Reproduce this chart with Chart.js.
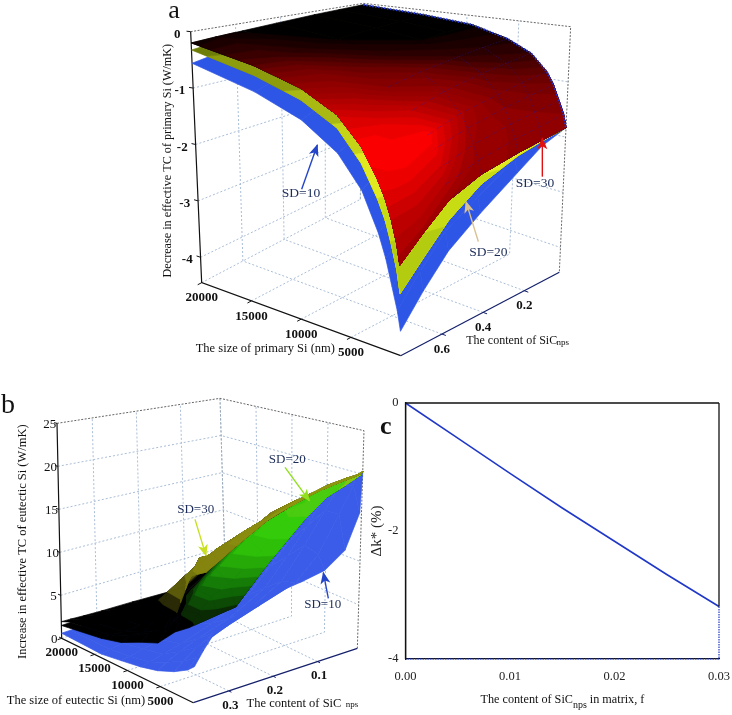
<!DOCTYPE html>
<html>
<head>
<meta charset="utf-8">
<title>SiC nps effective TC</title>
<script src="https://cdn.jsdelivr.net/npm/chart.js@4"></script>
<style>
  html, body { margin: 0; background: #fff; overflow: hidden; }
  canvas { position: absolute; }
</style>
</head>
<body>
<canvas id="chart-a" width="450" height="370" style="left:150px;top:0"></canvas>
<canvas id="chart-b" width="370" height="325" style="left:0;top:390px"></canvas>
<canvas id="chart-c" width="375" height="325" style="left:365px;top:390px"></canvas>
<script>
// panel a, rows follow contentsA, columns follow sizesA
var sizesA = [20000, 14000, 9500, 6000, 3700, 2100, 1400, 800, 300, 0];
var contentsA = [0.8, 0.69, 0.57, 0.42, 0.25, 0.14, 0.03];
var sizeTicksA = [20000, 15000, 10000, 5000];
var contentTicksA = [0.6, 0.4, 0.2];
var valueTicksA = [0, -1, -2, -3, -4];
var sd30A = [
  [-0.20, -0.45, -0.71, -1.04, -1.46, -1.92, -2.17, -2.47, -2.80, -3.11],
  [-0.17, -0.39, -0.61, -0.91, -1.28, -1.69, -1.92, -2.21, -2.50, -2.77],
  [-0.145, -0.33, -0.54, -0.79, -1.11, -1.45, -1.65, -1.92, -2.17, -2.41],
  [-0.11, -0.26, -0.43, -0.65, -0.92, -1.24, -1.46, -1.71, -1.95, -2.17],
  [-0.07, -0.19, -0.31, -0.52, -0.76, -1.08, -1.29, -1.55, -1.79, -2.01],
  [-0.05, -0.14, -0.24, -0.44, -0.67, -0.97, -1.19, -1.46, -1.70, -1.92],
  [-0.03, -0.10, -0.18, -0.37, -0.58, -0.88, -1.10, -1.37, -1.60, -1.83]
];
var sd20A = [
  [-0.325, -0.615, -0.90, -1.25, -1.72, -2.22, -2.50, -2.85, -3.20, -3.53],
  [-0.27, -0.52, -0.76, -1.08, -1.49, -1.93, -2.19, -2.51, -2.84, -3.15],
  [-0.22, -0.43, -0.65, -0.92, -1.27, -1.63, -1.87, -2.15, -2.44, -2.72],
  [-0.16, -0.33, -0.51, -0.74, -1.02, -1.36, -1.58, -1.86, -2.10, -2.33],
  [-0.10, -0.22, -0.35, -0.56, -0.81, -1.14, -1.36, -1.63, -1.85, -2.06],
  [-0.07, -0.16, -0.26, -0.46, -0.70, -1.00, -1.22, -1.50, -1.73, -1.94],
  [-0.04, -0.11, -0.19, -0.38, -0.59, -0.89, -1.11, -1.38, -1.61, -1.83]
];
var sd10A = [
  [-0.56, -0.89, -1.22, -1.64, -2.13, -2.72, -3.07, -3.47, -3.80, -4.09],
  [-0.48, -0.76, -1.04, -1.42, -1.85, -2.37, -2.67, -3.05, -3.36, -3.65],
  [-0.38, -0.62, -0.87, -1.18, -1.55, -1.97, -2.24, -2.57, -2.90, -3.20],
  [-0.28, -0.48, -0.68, -0.95, -1.27, -1.66, -1.93, -2.26, -2.55, -2.80],
  [-0.16, -0.32, -0.46, -0.70, -1.00, -1.35, -1.60, -1.90, -2.13, -2.35],
  [-0.09, -0.21, -0.32, -0.52, -0.77, -1.11, -1.33, -1.61, -1.83, -2.03],
  [-0.05, -0.12, -0.21, -0.40, -0.60, -0.90, -1.12, -1.40, -1.62, -1.83]
];
// colour shade of the SD=30 surface at the same nodes, 0 black to 1 full red
var shade30A = [
  [0.03, 0.25, 0.55, 0.85, 1, 0.95, 0.9, 0.8, 0.72, 0.65],
  [0.05, 0.2, 0.45, 0.7, 0.95, 1, 0.95, 0.85, 0.75, 0.65],
  [0.02, 0.1, 0.3, 0.5, 0.8, 1, 0.95, 0.85, 0.73, 0.62],
  [0, 0.02, 0.12, 0.35, 0.55, 0.7, 0.66, 0.62, 0.6, 0.58],
  [0, 0, 0.03, 0.15, 0.3, 0.45, 0.5, 0.55, 0.55, 0.55],
  [0, 0, 0.02, 0.1, 0.2, 0.35, 0.43, 0.5, 0.52, 0.55],
  [0, 0, 0.02, 0.08, 0.15, 0.28, 0.37, 0.45, 0.5, 0.55]
];

// panel b
var sizesB = [20000, 14000, 11000, 8000, 5500, 3000, 1000, 0];
var contentsB = [0.38, 0.36, 0.33, 0.29, 0.22, 0.14, 0.09, 0.045, 0.014, 0.01];
var sizeTicksB = [20000, 15000, 10000, 5000];
var contentTicksB = [0.3, 0.2, 0.1];
var valueTicksB = [0, 5, 10, 15, 20, 25];
var sd30B = [
  [1.94, 3.8, 5.0, 6.1, 7.0, 7.9, 12.5, 13.0],
  [1.9, 3.9, 5.5, 7.2, 9.5, 10.7, 14.2, 13.0],
  [1.8, 4.2, 6.0, 7.9, 10.5, 12.8, 14.3, 13.85],
  [1.7, 4.3, 6.2, 8.1, 11.0, 13.9, 15.1, 15.07],
  [1.6, 3.7, 7.2, 10.6, 13.0, 15.3, 16.6, 17.1],
  [1.4, 6.8, 9.8, 12.8, 14.8, 16.7, 17.9, 18.7],
  [1.2, 8.5, 11.4, 14.3, 16.0, 17.6, 18.7, 19.5],
  [3.4, 9.7, 12.4, 15.0, 16.6, 18.2, 19.2, 19.9],
  [4.5, 10.3, 12.8, 15.3, 16.9, 18.5, 19.5, 20.1],
  [4.6, 10.5, 13.0, 15.4, 17.0, 18.6, 19.6, 20.3]
];
var sd20B = [
  [1.5, 2.15, 2.7, 3.7, 4.4, 6.3, 7.3, 7.9],
  [1.5, 2.2, 3.1, 4.4, 5.5, 8.3, 8.5, 8.05],
  [1.45, 2.1, 3.1, 4.3, 7.0, 10.0, 9.9, 8.3],
  [1.4, 2.2, 4.5, 7.0, 9.4, 11.7, 10.8, 8.6],
  [1.3, 3.3, 6.4, 9.6, 11.9, 14.1, 13.5, 12.3],
  [1.2, 6.2, 9.4, 12.6, 14.5, 16.3, 17.5, 16.2],
  [1.2, 7.6, 10.5, 13.4, 15.1, 16.8, 17.8, 18.2],
  [2.7, 9.5, 12.2, 15.0, 16.3, 17.6, 18.6, 19.2],
  [3.6, 10.2, 12.8, 15.3, 16.9, 18.4, 19.2, 20.0],
  [3.7, 10.3, 12.9, 15.4, 17.0, 18.6, 19.4, 20.3]
];
var sd10B = [
  [0.6, 0.41, 0.73, 1.07, 1.5, 2.2, 3.0, 3.64],
  [0.6, 0.6, 0.9, 1.3, 2.1, 3.0, 4.0, 5.06],
  [0.6, 0.8, 1.2, 1.7, 2.8, 4.0, 5.6, 6.9],
  [0.6, 1.0, 1.6, 2.2, 3.6, 5.0, 6.4, 7.6],
  [0.6, 1.4, 2.4, 3.4, 4.8, 6.2, 7.6, 8.76],
  [0.5, 1.9, 3.6, 5.4, 7.0, 8.6, 9.0, 9.43],
  [0.5, 2.7, 5.3, 8.0, 10.0, 12.0, 11.5, 10.0],
  [0.5, 3.8, 7.1, 10.5, 13.0, 15.5, 15.5, 11.7],
  [0.9, 6.0, 9.5, 13.0, 15.5, 18.0, 18.5, 15.6],
  [1.0, 6.5, 10.0, 13.5, 16.0, 18.5, 19.3, 20.3]
];

// panel c
var contentC = [0, 0.005, 0.01, 0.015, 0.02, 0.025, 0.03];
var deltaK = [0, -0.55, -1.10, -1.64, -2.16, -2.68, -3.18];
var closingC = [0.03, 0.03, 0];
var closingValues = [-3.18, -4, -4];

var serif = "'Liberation Serif', 'Times New Roman', serif";

// corners of the drawn 3D box, in panel units (3 units = 1px)
var boxA = {
  w: 1350, h: 1110,
  sizeMax: 20000, sizeMin: 0, fMax: 0.8, fMin: 0.03, zMin: -4.45, zMax: 0,
  floor: { L: [155, 848], F: [752, 1067], R: [1228, 817], B: [631, 598] },
  top: { L: [122, 95], F: [744, 165], R: [1262, 80], B: [640, 10] }
};
var boxB = {
  w: 1110, h: 975,
  sizeMax: 20000, sizeMin: 0, fMax: 0.38, fMin: 0.01, zMin: 0, zMax: 25,
  floor: { L: [185, 745], F: [580, 938], R: [1072, 775], B: [677, 582] },
  top: { L: [171, 100], F: [603, 197], R: [1092, 122], B: [660, 25] }
};

function project(box, size, f, z) {
  var t = (box.sizeMax - size) / (box.sizeMax - box.sizeMin);
  var s = (box.fMax - f) / (box.fMax - box.fMin);
  var w = (z - box.zMin) / (box.zMax - box.zMin);
  function blend(c, i) {
    return c.L[i] * (1 - t) * (1 - s) + c.F[i] * t * (1 - s) + c.B[i] * (1 - t) * s + c.R[i] * t * s;
  }
  return {
    x: blend(box.floor, 0) * (1 - w) + blend(box.top, 0) * w,
    y: blend(box.floor, 1) * (1 - w) + blend(box.top, 1) * w
  };
}

// part of a grid cell on the wanted side of a contour level, c is the contoured field
function clipCell(cell, limit, sign) {
  var out = [];
  for (var i = 0; i < cell.length; i++) {
    var a = cell[i], b = cell[(i + 1) % cell.length];
    var inA = sign * (a.c - limit) >= 0, inB = sign * (b.c - limit) >= 0;
    if (inA) out.push(a);
    if (inA !== inB) {
      var k = (limit - a.c) / (b.c - a.c);
      out.push({ size: a.size + k * (b.size - a.size), f: a.f + k * (b.f - a.f), z: a.z + k * (b.z - a.z), c: limit });
    }
  }
  return out;
}

function surface(box, sizes, contents, grid, bands, sign, field) {
  var colours = field || grid;
  function node(r, c) {
    return { size: sizes[c], f: contents[r], z: grid[r][c], c: colours[r][c] };
  }
  return bands.map(function (band) {
    var data = [];
    for (var r = 0; r < contents.length - 1; r++) {
      for (var c = 0; c < sizes.length - 1; c++) {
        var poly = clipCell([node(r, c), node(r, c + 1), node(r + 1, c + 1), node(r + 1, c)], band[0], sign);
        if (poly.length < 3) continue;
        poly.concat([poly[0]]).forEach(function (p) { data.push(project(box, p.size, p.f, p.z)); });
        data.push({ x: NaN, y: NaN });
      }
    }
    return { data: data, showLine: true, fill: "shape", backgroundColor: band[1], borderColor: band[1], borderWidth: 0.7, pointRadius: 0 };
  });
}

function line(points, color, width, dash) {
  return { data: points, showLine: true, fill: false, borderColor: color, borderWidth: width, borderDash: dash || [], pointRadius: 0 };
}

// dotted walls and floor of the box, plus its outline
function boxLines(box, sizeTicks, contentTicks, valueTicks) {
  var grid = "#a9bdd6", dots = [2, 2], out = [];
  var a = box.sizeMax, b = box.sizeMin, c = box.fMax, d = box.fMin;
  valueTicks.forEach(function (z) {
    out.push(line([project(box, a, c, z), project(box, a, d, z), project(box, b, d, z)], grid, 1, dots));
  });
  sizeTicks.forEach(function (s) {
    out.push(line([project(box, s, c, box.zMin), project(box, s, d, box.zMin), project(box, s, d, box.zMax)], grid, 1, dots));
  });
  contentTicks.forEach(function (f) {
    out.push(line([project(box, b, f, box.zMin), project(box, a, f, box.zMin), project(box, a, f, box.zMax)], grid, 1, dots));
  });
  out.push(line([project(box, a, d, box.zMin), project(box, a, d, box.zMax)], "#9aa8b8", 1, dots));
  out.push(line([project(box, a, c, box.zMax), project(box, a, d, box.zMax), project(box, b, d, box.zMax), project(box, b, d, box.zMin)], "#666", 1, [2, 1.5]));
  out.push(line([project(box, a, c, box.zMax), project(box, a, c, box.zMin), project(box, b, c, box.zMin)], "#111", 1.2));
  out.push(line([project(box, b, c, box.zMin), project(box, b, d, box.zMin)], "#14206a", 1.2));
  return out;
}

function boxTicks(box, sizeTicks, contentTicks, valueTicks) {
  var out = [], df = (box.fMax - box.fMin) * 0.025, ds = (box.sizeMax - box.sizeMin) * 0.02;
  sizeTicks.forEach(function (s) {
    out.push(line([project(box, s, box.fMax, box.zMin), project(box, s, box.fMax + df, box.zMin)], "#111", 1));
  });
  contentTicks.forEach(function (f) {
    out.push(line([project(box, box.sizeMin, f, box.zMin), project(box, box.sizeMin - ds, f, box.zMin)], "#14206a", 1));
  });
  valueTicks.forEach(function (z) {
    out.push(line([project(box, box.sizeMax, box.fMax, z), project(box, box.sizeMax + ds, box.fMax, z)], "#111", 1));
  });
  return out;
}

// thin mesh and speckled rim of the dense right part of panel a
function meshLines(box) {
  var out = [], mesh = "rgba(30,30,170,0.45)";
  sizesA.slice(3).forEach(function (s, i) {
    var col = i + 3;
    out.push(line(contentsA.slice(2).map(function (f, r) { return project(box, s, f, sd30A[r + 2][col]); }), mesh, 0.8, [1.5, 1.5]));
  });
  contentsA.slice(3).forEach(function (f, i) {
    var row = sd30A[i + 3];
    out.push(line(sizesA.slice(3).map(function (s, c) { return project(box, s, f, row[c + 3]); }), mesh, 0.8, [1.5, 1.5]));
  });
  var rim = contentsA.length - 1;
  out.push(line(sizesA.map(function (s, c) { return project(box, s, contentsA[rim], sd30A[rim][c]); }), "#2438d8", 2, [1.5, 1.5]));
  return out;
}

var redBands = [[-1, "#000000"], [0.03, "#100000"], [0.06, "#1c0000"], [0.1, "#2a0000"], [0.15, "#3a0000"], [0.2, "#4c0000"], [0.25, "#5c0000"],
  [0.3, "#6c0000"], [0.36, "#780000"], [0.42, "#840000"], [0.5, "#900000"], [0.56, "#980000"], [0.62, "#a00000"], [0.68, "#b00000"],
  [0.74, "#bc0000"], [0.8, "#cc0000"], [0.86, "#dc0000"], [0.92, "#ec0000"], [0.97, "#fa0000"]];
var yellowBands = [[0, "#6e7d08"], [-0.4, "#8d9c0c"], [-0.8, "#aab812"], [-1.2, "#c6d418"], [-1.6, "#e0ea1e"], [-2.2, "#c8dc14"], [-2.8, "#b4cc10"]];
var blueBands = [[0, "#2d55e6"]];
var blueBandsB = [[-1, "#3a5ce8"]];
var greenBands = [[-1, "#000000"], [7.8, "#0a2a04"], [8.8, "#0c4a06"], [9.6, "#0f6406"], [10.4, "#157c08"], [11.2, "#1e9408"], [12, "#26aa08"],
  [13, "#2ec008"], [14.5, "#34cc0a"], [16.5, "#4acc10"], [18.8, "#86c414"]];
var oliveBands = [[-1, "#000000"], [8.3, "#2a2a06"], [9.5, "#5a5a0a"], [11, "#76760e"], [13, "#84840e"], [15, "#8a8c10"], [17, "#8e9610"]];

function textPlugin(box, items, arrows) {
  return {
    id: "labels",
    afterDraw: function (chart) {
      var ctx = chart.ctx, sx = chart.scales.x, sy = chart.scales.y;
      arrows.forEach(function (a) {
        var x0 = sx.getPixelForValue(a[0]), y0 = sy.getPixelForValue(a[1]);
        var x1 = sx.getPixelForValue(a[2]), y1 = sy.getPixelForValue(a[3]);
        var ang = Math.atan2(y1 - y0, x1 - x0);
        ctx.save();
        ctx.strokeStyle = ctx.fillStyle = a[4];
        ctx.lineWidth = 1.4;
        ctx.beginPath(); ctx.moveTo(x0, y0); ctx.lineTo(x1, y1); ctx.stroke();
        ctx.translate(x1, y1); ctx.rotate(ang);
        ctx.beginPath(); ctx.moveTo(1, 0); ctx.lineTo(-11, -5); ctx.lineTo(-8, 0); ctx.lineTo(-11, 5); ctx.closePath(); ctx.fill();
        ctx.restore();
      });
      items.forEach(function (t) {
        ctx.save();
        ctx.translate(sx.getPixelForValue(t.x), sy.getPixelForValue(t.y));
        if (t.rot) ctx.rotate(t.rot);
        ctx.font = t.font;
        ctx.fillStyle = t.color || "#111";
        ctx.textAlign = t.align || "center";
        ctx.textBaseline = "middle";
        ctx.fillText(t.text, 0, 0);
        ctx.restore();
      });
    }
  };
}

function tickText(box, sizeTicks, contentTicks, valueTicks, fontA, fontZ, sizeOff, contentOff, valueOff) {
  var out = [];
  sizeTicks.forEach(function (s) {
    var p = project(box, s, box.fMax, box.zMin);
    out.push({ x: p.x + sizeOff[0], y: p.y + sizeOff[1], text: String(s), font: fontA });
  });
  contentTicks.forEach(function (f) {
    var p = project(box, box.sizeMin, f, box.zMin);
    out.push({ x: p.x + contentOff[0], y: p.y + contentOff[1], text: f.toFixed(1), font: fontA });
  });
  valueTicks.forEach(function (z) {
    var p = project(box, box.sizeMax, box.fMax, z);
    out.push({ x: p.x + valueOff[0], y: p.y + valueOff[1], text: String(z), font: fontZ });
  });
  return out;
}

function panel3d(id, box, datasets, plugin) {
  new Chart(document.getElementById(id), {
    type: "scatter",
    data: { datasets: datasets.reverse() }, // first dataset is drawn last
    options: {
      responsive: false,
      animation: false,
      events: [],
      layout: { padding: 0 },
      elements: { line: { tension: 0 } },
      plugins: { legend: { display: false }, tooltip: { enabled: false } },
      scales: {
        x: { type: "linear", display: false, min: 0, max: box.w },
        y: { type: "linear", display: false, min: 0, max: box.h, reverse: true }
      }
    },
    plugins: [plugin]
  });
}

var sdColor = "#1c2c58";
var labelsA = tickText(boxA, sizeTicksA, contentTicksA, valueTicksA, "bold 13px " + serif, "bold 13px " + serif, [0, 46], [0, 46], [-40, 8]).concat([
  { x: 72, y: 34, text: "a", font: "26px " + serif },
  { x: 52, y: 482, text: "Decrease in effective TC of primary Si (W/mK)", font: "12.2px " + serif, rot: -Math.PI / 2 },
  { x: 346, y: 1045, text: "The size of primary Si (nm)", font: "12.5px " + serif },
  { x: 1085, y: 1023, text: "The content of SiC", font: "12px " + serif },
  { x: 1238, y: 1027, text: "nps", font: "9px " + serif },
  { x: 453, y: 580, text: "SD=10", font: "13.5px " + serif, color: sdColor },
  { x: 1015, y: 758, text: "SD=20", font: "13.5px " + serif, color: sdColor },
  { x: 1155, y: 550, text: "SD=30", font: "13.5px " + serif, color: sdColor }
]);
var arrowsA = [
  [455, 568, 502, 435, "#2545c8"],
  [985, 725, 948, 605, "#d8c090"],
  [1177, 530, 1177, 415, "#e01010"]
];
panel3d("chart-a", boxA,
  boxLines(boxA, sizeTicksA, contentTicksA, valueTicksA.slice(1))
    .concat(boxTicks(boxA, sizeTicksA, contentTicksA, valueTicksA))
    .concat(surface(boxA, sizesA, contentsA, sd10A, blueBands, -1))
    .concat(surface(boxA, sizesA, contentsA, sd20A, yellowBands, -1))
    .concat(surface(boxA, sizesA, contentsA, sd30A, redBands, 1, shade30A))
    .concat(meshLines(boxA)),
  textPlugin(boxA, labelsA, arrowsA));

var labelsB = tickText(boxB, sizeTicksB, contentTicksB, valueTicksB, "bold 13px " + serif, "13px " + serif, [0, 44], [5, 43], [-22, 3]).concat([
  { x: 24, y: 48, text: "b", font: "28px " + serif },
  { x: 68, y: 455, text: "Increase in effective TC of eutectic Si (W/mK)", font: "12.5px " + serif, rot: -Math.PI / 2 },
  { x: 228, y: 932, text: "The size of eutectic Si (nm)", font: "12.5px " + serif },
  { x: 882, y: 940, text: "The content of SiC", font: "12.5px " + serif },
  { x: 1056, y: 944, text: "nps", font: "9px " + serif },
  { x: 587, y: 358, text: "SD=30", font: "13px " + serif, color: sdColor },
  { x: 862, y: 210, text: "SD=20", font: "13px " + serif, color: sdColor },
  { x: 968, y: 645, text: "SD=10", font: "13px " + serif, color: sdColor }
]);
var arrowsB = [
  [585, 388, 618, 497, "#c8e020"],
  [855, 232, 928, 332, "#90e020"],
  [985, 625, 970, 548, "#2545c8"]
];
panel3d("chart-b", boxB,
  boxLines(boxB, sizeTicksB, contentTicksB, valueTicksB.slice(1, 5))
    .concat(boxTicks(boxB, sizeTicksB, contentTicksB, valueTicksB))
    .concat(surface(boxB, sizesB, contentsB, sd10B, blueBandsB, 1))
    .concat(surface(boxB, sizesB, contentsB, sd20B, greenBands, 1))
    .concat(surface(boxB, sizesB, contentsB, sd30B, oliveBands, 1)),
  textPlugin(boxB, labelsB, arrowsB));

// panel c is a plain line chart
var frameC = {
  id: "frameC",
  afterDraw: function (chart) {
    var ctx = chart.ctx, a = chart.chartArea;
    ctx.save();
    ctx.strokeStyle = "#111";
    ctx.lineWidth = 1.3;
    ctx.beginPath();
    ctx.moveTo(a.left, a.bottom); ctx.lineTo(a.left, a.top); ctx.lineTo(a.right, a.top);
    ctx.stroke();
    ctx.beginPath();
    ctx.moveTo(a.right, a.top); ctx.lineTo(a.right, chart.scales.y.getPixelForValue(deltaK[deltaK.length - 1]));
    ctx.stroke();
    ctx.fillStyle = "#111";
    ctx.textBaseline = "middle";
    ctx.textAlign = "left";
    ctx.font = "bold 26px " + serif;
    ctx.fillText("c", 15, 37);
    ctx.font = "12.2px " + serif;
    var x = a.left + 75, y = a.bottom + 41;
    ctx.fillText("The content of SiC", x, y);
    x += ctx.measureText("The content of SiC").width;
    ctx.font = "10px " + serif;
    ctx.fillText("nps", x, y + 5);
    x += ctx.measureText("nps").width;
    ctx.font = "12.2px " + serif;
    ctx.fillText(" in matrix, f", x, y);
    ctx.restore();
  }
};

new Chart(document.getElementById("chart-c"), {
  type: "scatter",
  data: {
    datasets: [
      {
        data: contentC.map(function (x, i) { return { x: x, y: deltaK[i] }; }),
        showLine: true, borderColor: "#2038c8", borderWidth: 1.6, pointRadius: 0, clip: false
      },
      {
        data: closingC.map(function (x, i) { return { x: x, y: closingValues[i] }; }),
        showLine: true, borderColor: "#2038c8", borderWidth: 1.2, borderDash: [1.5, 1], pointRadius: 0, clip: false
      }
    ]
  },
  options: {
    responsive: false,
    animation: false,
    events: [],
    layout: { padding: { top: 13, right: 21, left: 0, bottom: 0 } },
    plugins: { legend: { display: false }, tooltip: { enabled: false } },
    scales: {
      x: {
        type: "linear", min: 0, max: 0.03,
        grid: { display: false, tickLength: 5, drawTicks: true },
        border: { color: "#111", width: 1.3 },
        ticks: {
          stepSize: 0.01, color: "#222", padding: 5, maxRotation: 0,
          font: { family: serif, size: 12.5 },
          callback: function (v) { return v.toFixed(2); }
        },
        afterFit: function (scale) { scale.height = 56; }
      },
      y: {
        type: "linear", min: -4, max: 0,
        grid: { display: false, tickLength: 5, drawTicks: true },
        border: { color: "#111", width: 1.3 },
        ticks: { stepSize: 2, color: "#222", padding: 2, font: { family: serif, size: 12.5 } },
        title: { display: true, text: "Δk* (%)", color: "#222", padding: { top: 3, bottom: 0 }, font: { family: serif, size: 15 } },
        afterFit: function (scale) { scale.width = 40.5; }
      }
    }
  },
  plugins: [frameC]
});
</script>
</body>
</html>
